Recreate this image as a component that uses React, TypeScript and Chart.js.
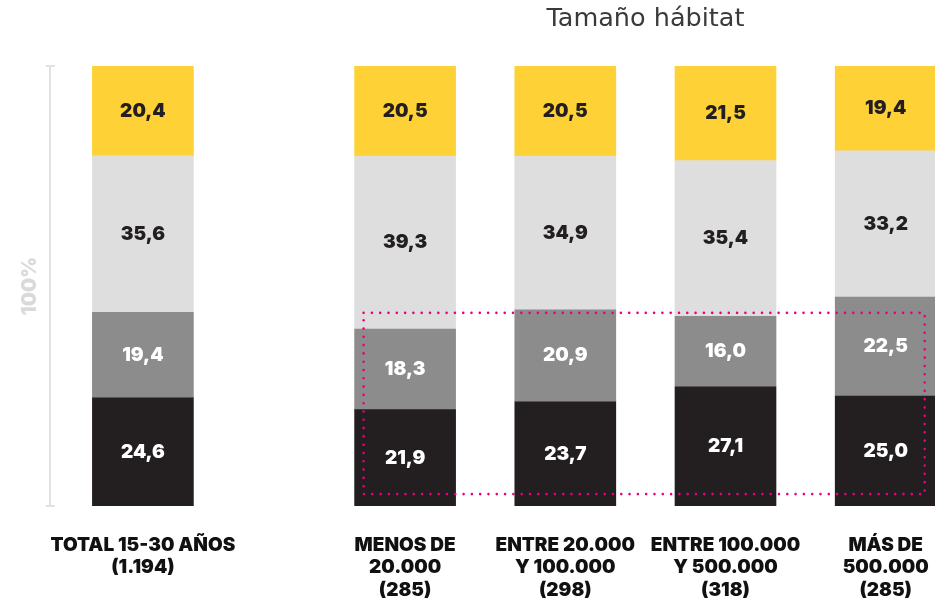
import { useEffect, useRef } from 'react';
import { Chart, registerables } from 'chart.js';

Chart.register(...registerables);

// ---- data ----
const categories: string[][] = [
  ['TOTAL 15-30 AÑOS', '(1.194)'],
  ['MENOS DE', '20.000', '(285)'],
  ['ENTRE 20.000', 'Y 100.000', '(298)'],
  ['ENTRE 100.000', 'Y 500.000', '(318)'],
  ['MÁS DE', '500.000', '(285)'],
];
const seriesNames = ['Segmento 1', 'Segmento 2', 'Segmento 3', 'Segmento 4'];
const segment1 = [24.6, 21.9, 23.7, 27.1, 25.0]; // bottom
const segment2 = [19.4, 18.3, 20.9, 16.0, 22.5];
const segment3 = [35.6, 39.3, 34.9, 35.4, 33.2];
const segment4 = [20.4, 20.5, 20.5, 21.5, 19.4]; // top
const seriesValues = [segment1, segment2, segment3, segment4];
const yAxisTitle = '100%';
const groupTitle = 'Tamaño hábitat';
const highlightRange = [2.7, 43.9]; // value range of dotted box

// ---- styles ----
const FONT = 'Inter, "Noto Sans", sans-serif';
const TITLE_FONT = '"DejaVu Sans", sans-serif';
const BAR_COLORS = ['#231f20', '#8c8c8c', '#dedede', '#fed136'];
const LABEL_COLORS = ['#ffffff', '#ffffff', '#231f20', '#231f20'];
const AXIS_COLOR = '#e2e2e2';
const BAR_W = 101;

const fmt = (v: number) => v.toFixed(1).replace('.', ',');

const valueLabels = {
  id: 'valueLabels',
  afterDatasetsDraw(chart: any) {
    const ctx = chart.ctx;
    ctx.save();
    ctx.font = `900 19px ${FONT}`;
    ctx.textAlign = 'center';
    ctx.textBaseline = 'middle';
    chart.data.datasets.forEach((ds: any, di: number) => {
      const meta = chart.getDatasetMeta(di);
      meta.data.forEach((bar: any, i: number) => {
        const { x, y, base } = bar.getProps(['x', 'y', 'base'], true);
        ctx.fillStyle = LABEL_COLORS[di];
        ctx.fillText(fmt(ds.data[i]), x, (y + base) / 2);
      });
    });
    ctx.restore();
  },
};

const axisCaps = {
  id: 'axisCaps',
  afterDraw(chart: any) {
    const ctx = chart.ctx;
    const y = chart.scales.y;
    const x = chart.chartArea.left;
    ctx.save();
    ctx.strokeStyle = AXIS_COLOR;
    ctx.lineWidth = 2;
    [y.max, y.min].forEach((v: number) => {
      const py = Math.round(y.getPixelForValue(v));
      ctx.beginPath();
      ctx.moveTo(x - 4, py);
      ctx.lineTo(x + 5, py);
      ctx.stroke();
    });
    ctx.restore();
  },
};

const highlightBox = {
  id: 'highlightBox',
  afterDatasetsDraw(chart: any) {
    const ctx = chart.ctx;
    const meta = chart.getDatasetMeta(0);
    const first = meta.data[0];
    const last = meta.data[meta.data.length - 1];
    const y = chart.scales.y;
    const left = first.x - first.width / 2 + 9;
    const right = last.x + last.width / 2 - 11.5;
    const top = y.getPixelForValue(highlightRange[1]);
    const bottom = y.getPixelForValue(highlightRange[0]);
    ctx.save();
    ctx.strokeStyle = '#e6007e';
    ctx.lineWidth = 2.6;
    ctx.lineCap = 'round';
    ctx.setLineDash([0, 8.3]);
    ctx.beginPath();
    ctx.moveTo(left, top);
    ctx.lineTo(right, top);
    ctx.lineTo(right, bottom);
    ctx.lineTo(left, bottom);
    ctx.closePath();
    ctx.stroke();
    ctx.restore();
  },
};

function buildDatasets(from: number, to: number) {
  return seriesValues.map((vals, i) => ({
    label: seriesNames[i],
    data: vals.slice(from, to),
    backgroundColor: BAR_COLORS[i],
    borderWidth: 0,
    barThickness: BAR_W,
  }));
}

const xScale = () => ({
  stacked: true,
  offset: true,
  grid: { display: false, drawTicks: false },
  border: { display: false },
  ticks: {
    color: '#111111',
    font: { family: FONT, size: 19, weight: '900', lineHeight: '22.5px' },
    padding: 28,
    maxRotation: 0,
    autoSkip: false,
  },
  afterFit: (scale: any) => {
    scale.height = 98;
  },
});

export default function App() {
  const leftRef = useRef<HTMLCanvasElement>(null);
  const rightRef = useRef<HTMLCanvasElement>(null);

  useEffect(() => {
    const left = new Chart(leftRef.current as HTMLCanvasElement, {
      type: 'bar',
      data: { labels: categories.slice(0, 1), datasets: buildDatasets(0, 1) as any },
      options: {
        responsive: false,
        animation: false,
        layout: { padding: { left: 13.5, right: 64, top: 66, bottom: 0 } },
        plugins: { legend: { display: false }, tooltip: { enabled: false } },
        scales: {
          x: xScale() as any,
          y: {
            stacked: true,
            min: 0,
            max: 100,
            ticks: { display: false },
            grid: { display: false, drawTicks: false },
            border: { display: true, color: AXIS_COLOR, width: 2 },
            title: {
              display: true,
              text: yAxisTitle,
              color: '#dadada',
              font: { family: FONT, size: 20, weight: '900', lineHeight: 1.2 },
              padding: { top: 0, bottom: 7.5 },
            },
          },
        },
      },
      plugins: [valueLabels, axisCaps],
    });

    const right = new Chart(rightRef.current as HTMLCanvasElement, {
      type: 'bar',
      data: { labels: categories.slice(1), datasets: buildDatasets(1, 5) as any },
      options: {
        responsive: false,
        animation: false,
        layout: { padding: { left: 25, right: 34.2, top: 0, bottom: 0 } },
        plugins: {
          legend: { display: false },
          tooltip: { enabled: false },
          title: {
            display: true,
            text: groupTitle,
            fullSize: false,
            color: '#3a3a3a',
            font: { family: TITLE_FONT, size: 25.5, weight: '400', lineHeight: 1.2 },
            padding: { top: 4, bottom: 31.4 },
          },
        },
        scales: {
          x: xScale() as any,
          y: { stacked: true, display: false, min: 0, max: 100 },
        },
      },
      plugins: [valueLabels, highlightBox],
    });

    return () => {
      left.destroy();
      right.destroy();
    };
  }, []);

  return (
    <div
      style={{
        position: 'absolute',
        left: 0,
        top: 0,
        width: 935,
        height: 604,
        overflow: 'hidden',
        background: '#ffffff',
      }}
    >
      <canvas
        ref={leftRef}
        width={300}
        height={604}
        style={{ position: 'absolute', left: 0, top: 0, width: 300, height: 604 }}
      />
      <canvas
        ref={rightRef}
        width={700}
        height={604}
        style={{ position: 'absolute', left: 300, top: 0, width: 700, height: 604 }}
      />
    </div>
  );
}
